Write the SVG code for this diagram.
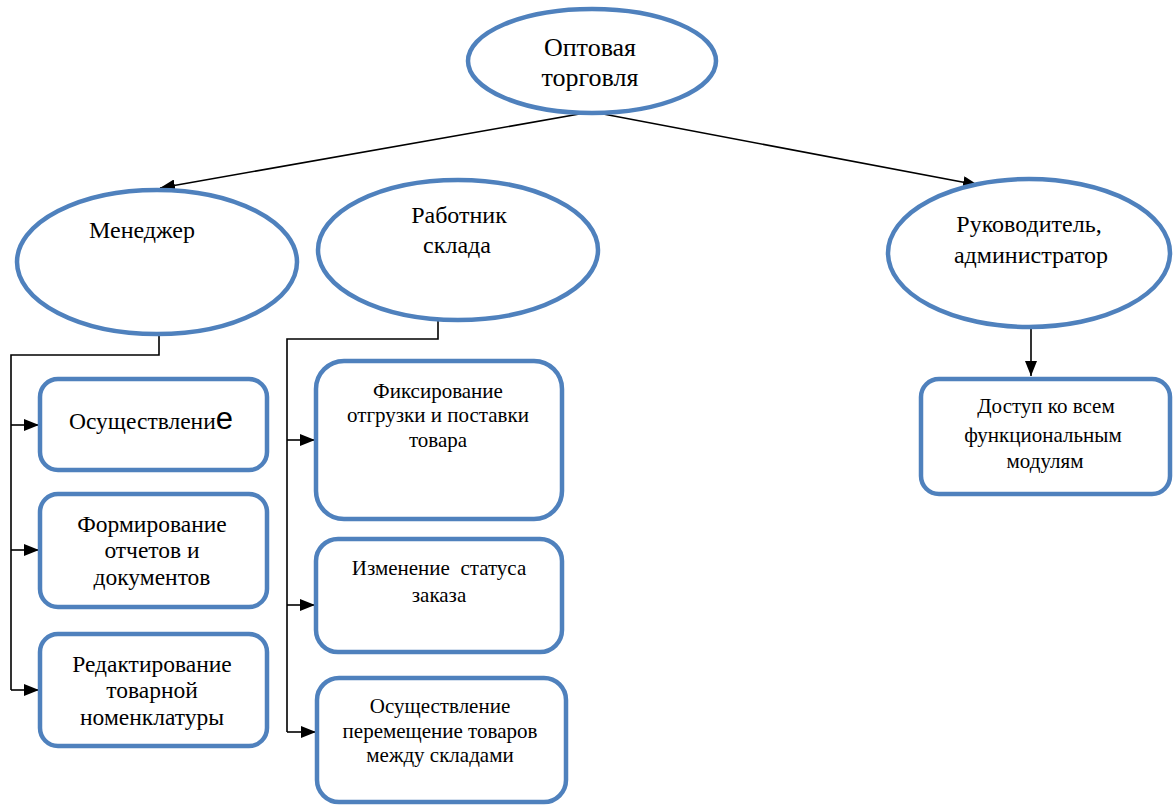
<svg xmlns="http://www.w3.org/2000/svg" width="1173" height="805" viewBox="0 0 1173 805">
<defs>
<style>
.node{fill:#fff;stroke:#4f81bd;stroke-width:4.5}
.t{font-family:'Liberation Serif','Times New Roman','DejaVu Serif',serif;fill:#000;text-anchor:middle}
.c{fill:none;stroke:#000;stroke-width:1.6}
</style>
<marker id="ah" viewBox="0 0 15 12" refX="15" refY="6" markerWidth="15" markerHeight="12" markerUnits="userSpaceOnUse" orient="auto">
<path d="M0,0 L15,6 L0,12 Z" fill="#000"/>
</marker>
</defs>
<rect width="1173" height="805" fill="#fff"/>
<g id="connectors">
<path class="c" d="M585,113 L160,188" marker-end="url(#ah)"/>
<path class="c" d="M598,113 L978,185" marker-end="url(#ah)"/>
<path class="c" d="M1031,327 L1031,376" marker-end="url(#ah)"/>
<path class="c" d="M159,334 L159,355 L11,355 L11,690"/>
<path class="c" d="M11,425 L39,425" marker-end="url(#ah)"/>
<path class="c" d="M11,550 L39,550" marker-end="url(#ah)"/>
<path class="c" d="M11,690 L39,690" marker-end="url(#ah)"/>
<path class="c" d="M438,320 L438,339 L287,339 L287,732"/>
<path class="c" d="M287,440 L315,440" marker-end="url(#ah)"/>
<path class="c" d="M287,605 L315,605" marker-end="url(#ah)"/>
<path class="c" d="M287,732 L316,732" marker-end="url(#ah)"/>
</g>
<g id="n-top">
<ellipse class="node" cx="592" cy="61" rx="124" ry="52"/>
<text class="t" font-size="26" x="590" y="56">Оптовая</text>
<text class="t" font-size="26" x="590" y="86">торговля</text>
</g>
<g id="n-manager">
<ellipse class="node" cx="157" cy="262" rx="140" ry="72"/>
<text class="t" font-size="24" x="142" y="238">Менеджер</text>
</g>
<g id="n-worker">
<ellipse class="node" cx="458" cy="250" rx="140" ry="70"/>
<text class="t" font-size="24" x="459" y="223">Работник</text>
<text class="t" font-size="24" x="457" y="253">склада</text>
</g>
<g id="n-head">
<ellipse class="node" cx="1029" cy="253" rx="141" ry="74"/>
<text class="t" font-size="24" x="1029" y="232">Руководитель,</text>
<text class="t" font-size="24" x="1031" y="263">администратор</text>
</g>
<g id="n-m1">
<rect class="node" x="40" y="379" width="227" height="91" rx="18"/>
<text class="t" font-size="23.5" x="151" y="429">Осуществлени<tspan font-family="'Liberation Sans', Arial, sans-serif" font-size="31">е</tspan></text>
</g>
<g id="n-m2">
<rect class="node" x="40" y="494" width="227" height="113" rx="18"/>
<text class="t" font-size="23.5" x="152" y="532">Формирование</text>
<text class="t" font-size="23.5" x="152" y="558">отчетов и</text>
<text class="t" font-size="23.5" x="152" y="585">документов</text>
</g>
<g id="n-m3">
<rect class="node" x="40" y="634" width="227" height="112" rx="18"/>
<text class="t" font-size="23.5" x="152" y="672">Редактирование</text>
<text class="t" font-size="23.5" x="152" y="698">товарной</text>
<text class="t" font-size="23.5" x="152" y="725">номенклатуры</text>
</g>
<g id="n-w1">
<rect class="node" x="316" y="361" width="246" height="158" rx="28"/>
<text class="t" font-size="21" x="438" y="398">Фиксирование</text>
<text class="t" font-size="21" x="438" y="422">отгрузки и поставки</text>
<text class="t" font-size="21" x="438" y="447">товара</text>
</g>
<g id="n-w2">
<rect class="node" x="316" y="539" width="246" height="113" rx="22"/>
<text class="t" font-size="21" x="439" y="575" xml:space="preserve">Изменение  статуса</text>
<text class="t" font-size="21" x="439" y="602">заказа</text>
</g>
<g id="n-w3">
<rect class="node" x="317" y="678" width="249" height="124" rx="22"/>
<text class="t" font-size="21" x="440" y="713">Осуществление</text>
<text class="t" font-size="21" x="440" y="738">перемещение товаров</text>
<text class="t" font-size="21" x="440" y="762">между складами</text>
</g>
<g id="n-h1">
<rect class="node" x="921" y="379" width="249" height="115" rx="18"/>
<text class="t" font-size="21" x="1046" y="413">Доступ ко всем</text>
<text class="t" font-size="21" x="1043" y="442">функциональным</text>
<text class="t" font-size="21" x="1045" y="468">модулям</text>
</g>
</svg>
